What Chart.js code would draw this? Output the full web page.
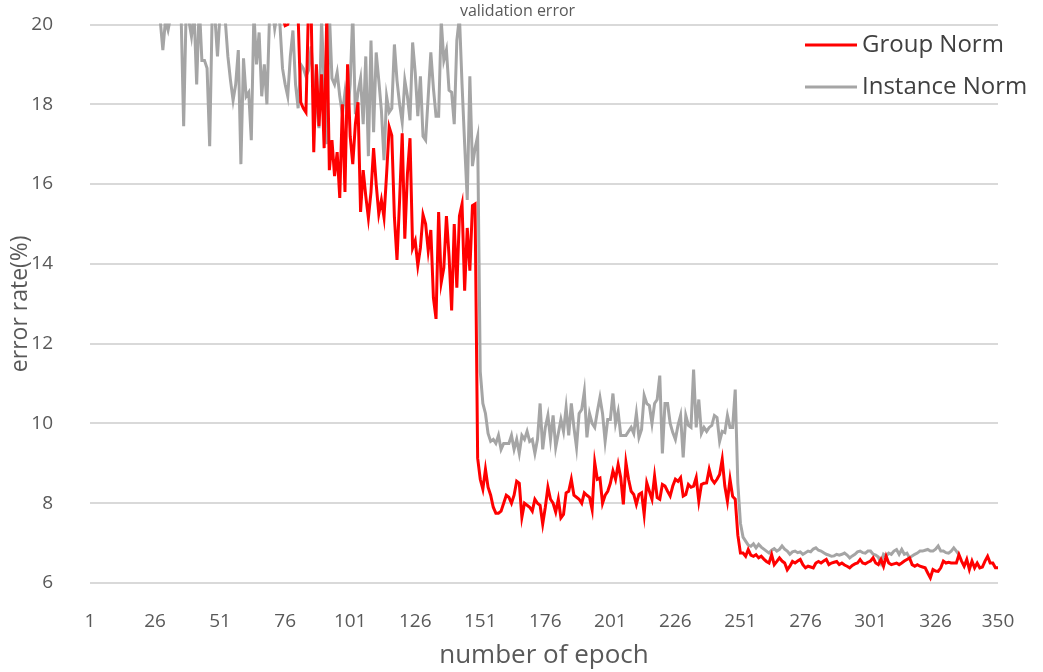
<!DOCTYPE html>
<html lang="en">
<head>
    <meta charset="UTF-8">
    <title>validation error</title>
    <script src="https://cdn.jsdelivr.net/npm/chart.js"></script>
    <style>
        html, body { margin: 0; padding: 0; background: #ffffff; }
        #wrap { width: 1043px; height: 672px; position: relative; }
    </style>
</head>
<body>
    <div id="wrap"><canvas id="chartCanvas"></canvas></div>
    <script>
        // Epoch labels on the category axis (1..350) and the ones that get a tick label
        const epochs = [];
        for (let i = 1; i <= 350; i++) epochs.push(String(i));
        const tickLabels = ['1', '26', '51', '76', '101', '126', '151', '176', '201', '226', '251', '276', '301', '326', '350'];

        // Group Norm, epochs 1..350 (values above 20 are outside the plotted range)
        const groupNorm = [
            28.6, 27.9, 27.1, 26.8, 26.2, 25.9, 25.4, 25.6, 24.9, 25.1,
            24.6, 24.3, 24.7, 24.0, 23.8, 24.1, 23.5, 23.7, 23.2, 23.4,
            23.0, 22.8, 23.1, 22.6, 22.7, 22.4, 22.6, 22.2, 22.3, 22.0,
            22.2, 21.9, 21.8, 22.0, 21.7, 21.8, 21.5, 21.7, 21.4, 21.5,
            21.3, 21.6, 21.2, 21.4, 21.1, 21.3, 21.0, 21.2, 20.9, 21.1,
            20.8, 21.0, 20.9, 20.7, 20.9, 20.6, 20.8, 20.7, 20.5, 20.8,
            20.6, 20.4, 20.7, 20.5, 20.6, 20.3, 20.5, 20.4, 20.6, 20.3,
            20.5, 20.2, 20.4, 20.3, 20.2, 19.97, 20.0, 20.3, 20.5, 20.6,
            20.2, 18.05, 17.9, 17.8, 20.5, 20.3, 16.8, 19.0, 17.45, 18.75,
            16.9, 20.2, 16.35, 17.1, 16.2, 16.8, 15.65, 18.0, 15.8, 19.0,
            17.2, 16.5, 17.5, 18.05, 15.3, 16.35, 15.7, 15.15, 15.8, 16.9,
            16.0, 15.25, 15.6, 15.17, 16.25, 17.43, 17.22, 15.17, 14.1, 15.6,
            17.27, 14.63, 16.25, 17.15, 14.4, 14.58, 13.96, 14.4, 15.23, 15.0,
            14.33, 14.85, 13.15, 12.62, 15.3, 13.53, 13.9, 15.2, 14.2, 12.83,
            15.0, 13.4, 15.2, 15.5, 13.33, 14.9, 13.83, 15.46, 15.5, 9.13,
            8.6, 8.35, 8.85, 8.4, 8.2, 7.9, 7.75, 7.75, 7.8, 8.0,
            8.2, 8.15, 8.0, 8.2, 8.55, 8.5, 7.65, 8.0, 7.95, 7.9,
            7.8, 8.1, 8.0, 7.95, 7.48, 7.9, 8.4, 8.1, 8.0, 7.78,
            8.1, 7.63, 7.72, 8.26, 8.3, 8.6, 8.2, 8.15, 8.1, 8.0,
            8.26, 8.2, 8.15, 7.84, 9.02, 8.6, 8.63, 8.0, 8.2, 8.3,
            8.5, 8.81, 8.6, 8.97, 8.64, 7.97, 9.02, 8.6, 8.3, 8.22,
            7.97, 8.22, 8.26, 7.72, 8.51, 8.3, 8.1, 8.68, 8.14, 8.1,
            8.47, 8.43, 8.3, 8.18, 8.43, 8.6, 8.55, 8.64, 8.18, 8.22,
            8.47, 8.4, 8.43, 8.64, 8.05, 8.47, 8.5, 8.51, 8.85, 8.6,
            8.51, 8.6, 8.72, 9.1, 8.43, 8.05, 8.6, 8.17, 8.1, 7.2,
            6.75, 6.75, 6.67, 6.84, 6.7, 6.67, 6.71, 6.63, 6.67, 6.6,
            6.54, 6.5, 6.71, 6.46, 6.54, 6.63, 6.55, 6.5, 6.33, 6.42,
            6.54, 6.5, 6.55, 6.59, 6.46, 6.38, 6.42, 6.4, 6.38, 6.5,
            6.54, 6.5, 6.55, 6.59, 6.46, 6.5, 6.52, 6.54, 6.46, 6.5,
            6.45, 6.42, 6.38, 6.44, 6.48, 6.5, 6.59, 6.5, 6.48, 6.52,
            6.55, 6.63, 6.5, 6.46, 6.59, 6.42, 6.67, 6.5, 6.46, 6.48,
            6.5, 6.46, 6.5, 6.55, 6.59, 6.63, 6.46, 6.42, 6.46, 6.42,
            6.4, 6.38, 6.25, 6.13, 6.34, 6.3, 6.29, 6.38, 6.55, 6.5,
            6.52, 6.5, 6.5, 6.5, 6.71, 6.55, 6.42, 6.59, 6.34, 6.55,
            6.38, 6.5, 6.38, 6.4, 6.55, 6.67, 6.5, 6.5, 6.38, 6.38
        ];

        // Instance Norm, epochs 1..335 (the series stops there)
        const instanceNorm = [
            23.5, 23.0, 22.6, 22.8, 22.1, 22.4, 21.9, 22.0, 21.6, 21.8,
            21.4, 21.7, 21.2, 21.5, 21.1, 21.3, 20.9, 21.2, 20.8, 21.0,
            20.7, 20.9, 20.6, 20.8, 20.5, 20.7, 20.2, 20.1, 19.36, 20.1,
            19.86, 20.2, 20.6, 20.4, 20.8, 20.3, 17.45, 20.5, 20.1, 19.7,
            20.3, 18.5, 20.5, 19.1, 19.1, 18.9, 16.95, 20.4, 20.2, 19.2,
            20.3, 20.6, 20.1, 19.2, 18.6, 18.1, 18.5, 19.36, 16.5, 19.15,
            18.2, 18.3, 17.1, 20.3, 19.0, 19.8, 18.2, 19.0, 18.0, 20.2,
            20.5, 19.9, 20.3, 20.0, 18.9, 18.5, 18.2, 19.2, 19.85, 18.5,
            17.9, 19.0, 18.9, 18.7, 18.85, 19.45, 18.45, 18.1, 17.4, 20.1,
            18.5, 17.0, 20.3, 18.65, 18.5, 18.8, 18.2, 17.75, 18.3, 17.75,
            18.5, 20.3, 17.75, 18.3, 18.65, 17.5, 19.2, 16.7, 19.6, 17.3,
            19.3, 18.6, 17.85, 16.6, 18.2, 17.8, 17.9, 19.5, 18.6, 18.0,
            17.55, 18.6, 18.2, 17.6, 19.55, 18.8, 17.7, 18.7, 17.2, 17.1,
            18.2, 19.3, 18.4, 17.7, 17.7, 20.1, 19.1, 19.36, 18.35, 18.3,
            17.5, 19.6, 20.2, 18.5, 17.0, 15.6, 18.7, 16.45, 16.9, 17.2,
            11.3, 10.5, 10.25, 9.75, 9.55, 9.6, 9.5, 9.7, 9.35, 9.5,
            9.5, 9.5, 9.7, 9.35, 9.6, 9.25, 9.7, 9.6, 9.8, 9.55,
            9.6, 9.25, 9.6, 10.5, 9.35, 9.9, 10.2, 9.6, 10.2, 9.4,
            9.75, 10.1, 9.8, 10.4, 9.7, 10.5, 9.9, 9.4, 10.25, 10.35,
            10.8, 9.65, 10.25, 10.0, 9.9, 10.3, 10.65, 10.25, 9.55, 10.1,
            10.1, 10.75, 10.0, 10.3, 9.7, 9.7, 9.7, 9.8, 9.9, 9.75,
            10.25, 9.65, 9.85, 10.7, 10.5, 10.45, 10.0, 10.5, 10.6, 11.2,
            9.25, 10.5, 10.5, 10.0, 9.77, 9.6, 9.95, 10.2, 9.15, 10.2,
            9.95, 9.9, 11.35, 9.9, 10.6, 9.75, 9.9, 9.8, 9.9, 9.95,
            10.2, 10.15, 9.55, 9.8, 9.77, 10.2, 9.9, 9.9, 10.85, 8.5,
            7.5, 7.15, 7.05, 6.95, 6.92, 6.98, 6.88, 6.97, 6.9, 6.85,
            6.8, 6.75, 6.82, 6.86, 6.8, 6.84, 6.93, 6.85, 6.8, 6.72,
            6.78, 6.8, 6.76, 6.78, 6.72, 6.76, 6.8, 6.78, 6.85, 6.88,
            6.82, 6.8, 6.76, 6.72, 6.7, 6.67, 6.68, 6.72, 6.7, 6.72,
            6.75, 6.7, 6.63, 6.68, 6.72, 6.78, 6.8, 6.76, 6.75, 6.8,
            6.8, 6.72, 6.7, 6.65, 6.5, 6.72, 6.67, 6.75, 6.72, 6.8,
            6.84, 6.72, 6.84, 6.72, 6.75, 6.63, 6.68, 6.72, 6.75, 6.8,
            6.8, 6.82, 6.84, 6.8, 6.8, 6.85, 6.93, 6.8, 6.8, 6.76,
            6.75, 6.8, 6.88, 6.8, 6.71
        ];

        const textColor = '#595959';
        const gridColor = '#d9d9d9';
        const fontFamily = "'Open Sans', sans-serif";

        // Legend drawn inside the plot, top right, like the original
        const insideLegend = {
            id: 'insideLegend',
            afterLayout(chart) {
                // the title sits a little right of the canvas centre in the original
                if (chart.titleBlock) chart.titleBlock.left += 37;
            },
            afterDraw(chart) {
                const ctx = chart.ctx;
                ctx.save();
                chart.data.datasets.forEach((ds, i) => {
                    const y = 45 + i * 42;
                    ctx.strokeStyle = ds.borderColor;
                    ctx.lineWidth = 3;
                    ctx.beginPath();
                    ctx.moveTo(805, y);
                    ctx.lineTo(857, y);
                    ctx.stroke();
                    ctx.fillStyle = '#404040';
                    ctx.font = '24px ' + fontFamily;
                    ctx.textBaseline = 'middle';
                    ctx.textAlign = 'left';
                    ctx.fillText(ds.label, 862, y);
                });
                ctx.restore();
            }
        };

        const ctx = document.getElementById('chartCanvas').getContext('2d');
        new Chart(ctx, {
            type: 'line',
            data: {
                labels: epochs,
                datasets: [
                    {
                        label: 'Group Norm',
                        data: groupNorm,
                        borderColor: '#ff0000',
                        borderWidth: 3,
                        pointRadius: 0,
                        tension: 0,
                        fill: false,
                        clip: 1
                    },
                    {
                        label: 'Instance Norm',
                        data: instanceNorm,
                        borderColor: '#a5a5a5',
                        borderWidth: 3,
                        pointRadius: 0,
                        tension: 0,
                        fill: false,
                        clip: 1
                    }
                ]
            },
            options: {
                responsive: true,
                maintainAspectRatio: false,
                animation: false,
                layout: { padding: { top: 0, right: 45, bottom: 0, left: 0 } },
                plugins: {
                    legend: { display: false },
                    tooltip: { enabled: false },
                    title: {
                        display: true,
                        text: 'validation error',
                        color: textColor,
                        font: { family: fontFamily, size: 16, weight: 'normal' },
                        padding: { top: 2, bottom: 3.3 }
                    }
                },
                scales: {
                    x: {
                        grid: { display: false },
                        border: { display: false },
                        afterFit(scale) { scale.height = 89; },
                        ticks: {
                            autoSkip: false,
                            maxRotation: 0,
                            padding: 19,
                            color: textColor,
                            font: { family: fontFamily, size: 19 },
                            callback: function (value) {
                                const lab = this.getLabelForValue(value);
                                return tickLabels.includes(lab) ? lab : null;
                            }
                        },
                        title: {
                            display: true,
                            text: 'number of epoch',
                            color: textColor,
                            font: { family: fontFamily, size: 26 },
                            padding: { top: 0, bottom: 1 }
                        }
                    },
                    y: {
                        min: 6,
                        max: 20,
                        afterFit(scale) {
                            scale.width = 90;
                            // keep the tick padding from pushing the plot area down
                            scale.paddingTop = 0;
                            scale.paddingBottom = 0;
                        },
                        grid: { color: gridColor, lineWidth: 2, drawTicks: false },
                        border: { display: false },
                        ticks: {
                            stepSize: 2,
                            padding: 37,
                            color: textColor,
                            font: { family: fontFamily, size: 19 }
                        },
                        title: {
                            display: true,
                            text: 'error rate(%)',
                            color: textColor,
                            font: { family: fontFamily, size: 23 },
                            padding: { top: 7, bottom: 0 }
                        }
                    }
                }
            },
            plugins: [insideLegend]
        });
    </script>
</body>
</html>
